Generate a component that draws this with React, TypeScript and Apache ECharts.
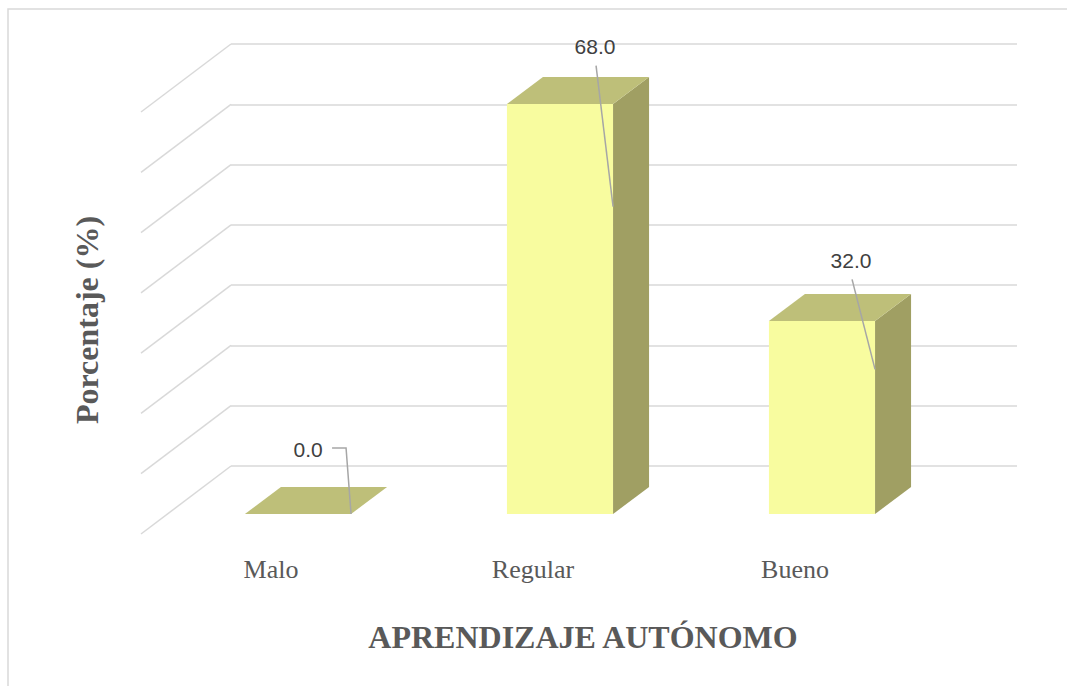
import React, { useEffect, useRef } from "react";
import * as echarts from "echarts";

const categories = ["Malo", "Regular", "Bueno"];
const values = [0.0, 68.0, 32.0];
const yTicks = [0, 10, 20, 30, 40, 50, 60, 70];

// label placement (Excel manual positions), relative to leader anchor
const labelOffsets = [
  [-43, -65],
  [-18, -160],
  [-24, -109],
];

const FRONT = "#F8FC9F";
const TOP = "#BEBF79";
const SIDE = "#A09F63";
const GRID = "#D9D9D9";
const DEPTH_X = 36;
const DEPTH_Y = 27;

export default function App() {
  const ref = useRef<HTMLDivElement>(null);
  useEffect(() => {
    if (!ref.current) return;
    const chart = echarts.init(ref.current, null, { renderer: "svg" });
    const option: any = {
      animation: false,
      backgroundColor: "#ffffff",
      grid: [
        { left: 231, right: 50, top: 44, bottom: 220 },
        { left: 167, right: 114, top: 92, bottom: 172 },
      ],
      xAxis: [
        { gridIndex: 0, type: "value", min: 0, max: 1, show: false },
        {
          gridIndex: 1,
          type: "category",
          data: categories,
          axisLine: { show: false },
          axisTick: { show: false },
          axisLabel: {
            margin: 40,
            fontFamily: "Liberation Serif",
            fontSize: 26,
            lineHeight: 30,
            color: "#595959",
            padding: [0, 54, 0, 0],
          },
        },
      ],
      yAxis: [
        {
          gridIndex: 0,
          type: "value",
          min: 0,
          max: 70,
          interval: 10,
          axisLine: { show: false },
          axisTick: { show: false },
          axisLabel: { show: false },
          splitLine: { show: true, lineStyle: { color: GRID, width: 1.5 } },
        },
        { gridIndex: 1, type: "value", min: 0, max: 70, show: false },
      ],
      series: [
        {
          type: "custom",
          xAxisIndex: 0,
          yAxisIndex: 0,
          clip: false,
          silent: true,
          data: yTicks.map((t) => [0, t]),
          renderItem: (params: any, api: any) => {
            const p = api.coord([0, api.value(1)]);
            return {
              type: "line",
              shape: { x1: p[0], y1: p[1], x2: p[0] - 90, y2: p[1] + 68 },
              style: { stroke: GRID, lineWidth: 1.5 },
            };
          },
        },
        {
          type: "custom",
          xAxisIndex: 1,
          yAxisIndex: 1,
          clip: false,
          data: values.map((v, i) => [i, v]),
          renderItem: (params: any, api: any) => {
            const i = api.value(0);
            const v = api.value(1);
            const base = api.coord([i, 0]);
            const top = api.coord([i, v]);
            const w = api.size([1, 0])[0] * 0.405;
            const x1 = base[0] - w / 2;
            const x2 = base[0] + w / 2;
            const yb = base[1];
            const yt = top[1];
            const children: any[] = [];
            if (yb - yt > 0.5) {
              children.push({
                type: "rect",
                shape: { x: x1, y: yt, width: w, height: yb - yt },
                style: { fill: FRONT },
              });
              children.push({
                type: "polygon",
                shape: {
                  points: [
                    [x2, yt],
                    [x2 + DEPTH_X, yt - DEPTH_Y],
                    [x2 + DEPTH_X, yb - DEPTH_Y],
                    [x2, yb],
                  ],
                },
                style: { fill: SIDE },
              });
            }
            children.push({
              type: "polygon",
              shape: {
                points: [
                  [x1, yt],
                  [x1 + DEPTH_X, yt - DEPTH_Y],
                  [x2 + DEPTH_X, yt - DEPTH_Y],
                  [x2, yt],
                ],
              },
              style: { fill: TOP },
            });
            // leader anchor at 75% of height on front-right edge
            const ax = x2;
            const ay = yb - 0.75 * (yb - yt);
            const off = labelOffsets[params.dataIndex] || [0, -40];
            const lx = ax + off[0];
            const ly = ay + off[1];
            const txt = v.toFixed(1);
            const halfW = 22;
            let pts: number[][];
            if (Math.abs(off[0]) < halfW + 10) {
              pts = [
                [lx + 1, ly + 19],
                [ax, ay],
              ];
            } else {
              pts = [
                [lx + 24, ly - 1],
                [ax - 5, ly - 1],
                [ax, ay],
              ];
            }
            children.push({
              type: "polyline",
              shape: { points: pts },
              style: { stroke: "#A6A6A6", lineWidth: 1.5, fill: "none" },
            });
            children.push({
              type: "text",
              style: {
                text: txt,
                x: lx,
                y: ly,
                align: "center",
                verticalAlign: "middle",
                fontFamily: "Liberation Sans",
                fontSize: 21,
                fill: "#404040",
              },
            });
            return { type: "group", children };
          },
        },
      ],
      graphic: [
        {
          type: "rect",
          shape: { x: 8, y: 9, width: 1200, height: 800 },
          style: { fill: "none", stroke: GRID, lineWidth: 1.5 },
          silent: true,
          z: -10,
        },
        {
          type: "text",
          x: 87,
          y: 320,
          rotation: Math.PI / 2,
          style: {
            text: "Porcentaje (%)",
            align: "center",
            verticalAlign: "middle",
            fontFamily: "Liberation Serif",
            fontWeight: "bold",
            fontSize: 32,
            fill: "#595959",
          },
        },
        {
          type: "text",
          x: 583,
          y: 637,
          style: {
            text: "APRENDIZAJE AUTÓNOMO",
            align: "center",
            verticalAlign: "middle",
            fontFamily: "Liberation Serif",
            fontWeight: "bold",
            fontSize: 32,
            fill: "#595959",
          },
        },
      ],
    };
    chart.setOption(option);
    return () => chart.dispose();
  }, []);
  return (
    <div
      ref={ref}
      style={{ position: "absolute", left: 0, top: 0, width: 1067, height: 686 }}
    />
  );
}
